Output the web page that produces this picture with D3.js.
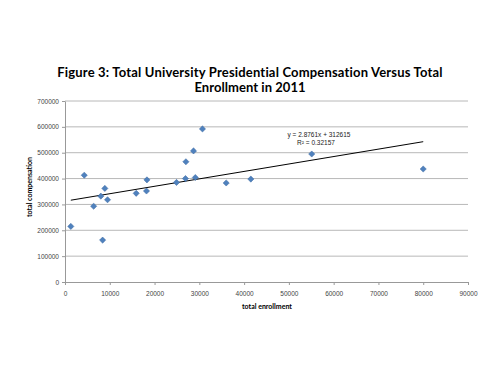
<!DOCTYPE html>
<html>
<head>
<meta charset="utf-8">
<script src="https://cdn.jsdelivr.net/npm/d3@7"></script>
<style>
  body { margin: 0; background: #fff; }
  svg { display: block; }
</style>
</head>
<body>
<svg id="chart" width="500" height="375"></svg>
<script>
// enrollment vs compensation
const enrollment = [1300, 4300, 6400, 8000, 8900, 8400, 9500, 15900, 18300, 18200,
  24900, 26900, 27000, 28700, 29100, 30700, 36000, 41500, 55100, 80000];
const compensation = [215000, 413000, 293000, 332000, 362000, 162000, 318000, 343000, 395000, 352000,
  385000, 400000, 465000, 507000, 404000, 592000, 383000, 398000, 495000, 437000];

const xTicks = [0, 10000, 20000, 30000, 40000, 50000, 60000, 70000, 80000, 90000];
const yTicks = [0, 100000, 200000, 300000, 400000, 500000, 600000, 700000];

// trendline shown on chart
const slope = 2.8761, intercept = 312615;
const eqLabel = "y = 2.8761x + 312615";
const r2Label = "R² = 0.32157";

const titleLines = ["Figure 3: Total University Presidential Compensation Versus Total", "Enrollment in 2011"];

const svg = d3.select("#chart");
const margin = { top: 101, right: 32, bottom: 93, left: 65 };
const width = 500, height = 375;

const x = d3.scaleLinear().domain([0, 90000]).range([margin.left, width - margin.right]);
const y = d3.scaleLinear().domain([0, 700000]).range([height - margin.bottom, margin.top]);

// title
svg.append("g")
  .selectAll("text")
  .data(titleLines)
  .enter()
  .append("text")
  .attr("x", 250)
  .attr("y", (d, i) => 77 + i * 15)
  .attr("text-anchor", "middle")
  .style("font-family", "Lato, 'Open Sans', sans-serif")
  .style("font-weight", "bold")
  .style("font-size", "13px")
  .style("letter-spacing", (d, i) => (i === 0 ? "0.18px" : "0.05px"))
  .style("fill", "#000")
  .text((d) => d);

// gridlines
svg.append("g")
  .selectAll("line")
  .data(yTicks.filter((d) => d > 0))
  .enter()
  .append("line")
  .attr("x1", x(0))
  .attr("x2", x(90000))
  .attr("y1", (d) => y(d))
  .attr("y2", (d) => y(d))
  .style("stroke", "#b8b8b8")
  .style("stroke-width", 1);

// axes
const xAxis = d3.axisBottom(x).tickValues(xTicks).tickSize(3).tickSizeOuter(0).tickFormat(d3.format("d"));
const yAxis = d3.axisLeft(y).tickValues(yTicks).tickSize(3).tickSizeOuter(0).tickFormat(d3.format("d"));

const gx = svg.append("g")
  .attr("transform", `translate(0,${y(0)})`)
  .call(xAxis);
const gy = svg.append("g")
  .attr("transform", `translate(${x(0)},0)`)
  .call(yAxis);

[gx, gy].forEach((g) => {
  g.select(".domain").style("stroke", "#999");
  g.selectAll(".tick line").style("stroke", "#999");
  g.selectAll(".tick text")
    .style("font-family", "'Liberation Sans', Arial, sans-serif")
    .style("font-size", "6.5px")
    .style("fill", "#444");
});
gx.selectAll(".tick text").attr("dy", "0").attr("y", 14);
gy.selectAll(".tick text").attr("x", -6);

// axis titles
svg.append("text")
  .attr("x", 267)
  .attr("y", 309)
  .attr("text-anchor", "middle")
  .style("font-family", "Lato, sans-serif")
  .style("font-weight", "bold")
  .style("font-size", "7px")
  .text("total enrollment");

svg.append("text")
  .attr("transform", "translate(32,187) rotate(-90)")
  .attr("text-anchor", "middle")
  .style("font-family", "Lato, sans-serif")
  .style("font-weight", "bold")
  .style("font-size", "7px")
  .text("total compensation");

// trendline over the data range
const xMin = d3.min(enrollment), xMax = d3.max(enrollment);
svg.append("line")
  .attr("x1", x(xMin))
  .attr("y1", y(slope * xMin + intercept))
  .attr("x2", x(xMax))
  .attr("y2", y(slope * xMax + intercept))
  .style("stroke", "#000")
  .style("stroke-width", 1);

// points, square diamonds
const points = enrollment.map((d, i) => ({ x: d, y: compensation[i] }));
svg.append("g")
  .selectAll("path")
  .data(points)
  .enter()
  .append("path")
  .attr("d", d3.symbol().type(d3.symbolSquare).size(19))
  .attr("transform", (d) => `translate(${x(d.x)},${y(d.y)}) rotate(45)`)
  .style("fill", "#4f81bd")
  .style("stroke", "#3c6aa3")
  .style("stroke-width", 0.5);

// equation label
svg.append("g")
  .selectAll("text")
  .data([eqLabel, r2Label])
  .enter()
  .append("text")
  .attr("x", (d, i) => (i === 0 ? 319 : 316))
  .attr("y", (d, i) => 137 + i * 8)
  .attr("text-anchor", "middle")
  .style("font-family", "'Liberation Sans', Arial, sans-serif")
  .style("font-size", "6.5px")
  .style("fill", "#222")
  .text((d) => d);
</script>
</body>
</html>
